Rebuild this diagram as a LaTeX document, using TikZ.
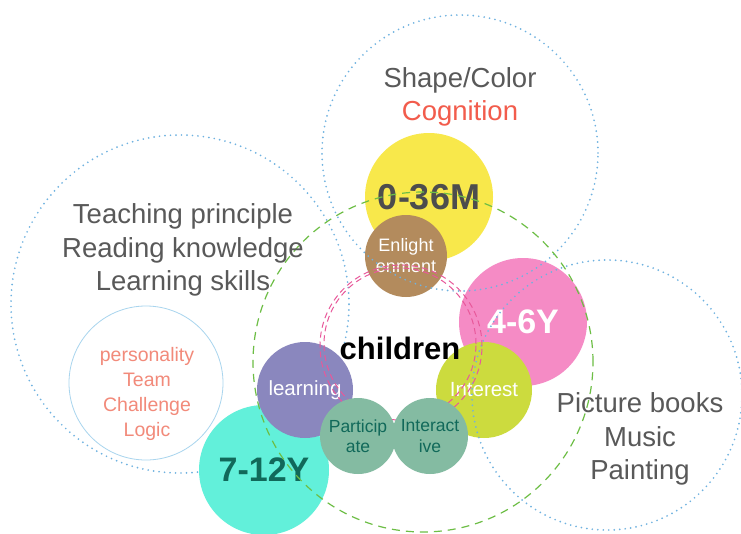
\documentclass[tikz,border=0pt]{standalone}
\usepackage{fontspec}
\setmainfont{Liberation Sans}
\definecolor{ringblue}{HTML}{6FB2E0}
\definecolor{lightring}{HTML}{A9D5EE}
\definecolor{ringgreen}{HTML}{6DBE45}
\definecolor{ringpink}{HTML}{E8589A}
\definecolor{labelgray}{HTML}{595959}
\definecolor{cogred}{HTML}{F25C4C}
\definecolor{salmon}{HTML}{F28A7A}
\definecolor{cyellow}{HTML}{F8E84B}
\definecolor{cbrown}{HTML}{B38B5D}
\definecolor{cpink}{HTML}{F58BC5}
\definecolor{cinterest}{HTML}{CCDB3E}
\definecolor{cpurple}{HTML}{8A87BE}
\definecolor{ccyan}{HTML}{62F0DA}
\definecolor{csage}{HTML}{84BBA2}
\definecolor{darkteal}{HTML}{11695A}
\definecolor{numgray}{HTML}{4D4D4D}
\begin{document}
\begin{tikzpicture}[x=1pt,y=-1pt,
  disc/.style={circle,inner sep=0pt,draw=none,align=center},
  dotring/.style={circle,inner sep=0pt,draw=ringblue,line width=1.9pt,line cap=round,dash pattern=on 0pt off 5.5pt},
  greenring/.style={circle,inner sep=0pt,draw=ringgreen,line width=1.2pt,dash pattern=on 8pt off 6pt},
  pinkring/.style={circle,inner sep=0pt,draw=ringpink,line width=1pt,dash pattern=on 6pt off 4pt},
  biglabel/.style={align=center,text=labelgray,font=\fontsize{27.5}{33.5}\selectfont},
  agelabel/.style={font=\fontsize{36}{40}\selectfont\bfseries},
  smalllabel/.style={font=\fontsize{17.5}{20.5}\selectfont},
]
\useasboundingbox (0,0) rectangle (741,533);
\fill[white] (0,0) rectangle (741,533);

% left dotted ring (behind the discs)
\node[dotring,minimum size=338pt] (leftring) at (180,304) {};
\node[circle,inner sep=0pt,draw=lightring,line width=0.8pt,minimum size=154pt] (persring) at (146,383) {};

% filled discs (back)
\node[disc,fill=cyellow,minimum size=128pt,text=numgray,agelabel] (m036) at (429,197) {0-36M};
\node[disc,fill=cbrown,minimum size=82pt,text=white,font=\fontsize{18}{21}\selectfont] (enl) at (406,256) {Enlight\\enment};
\node[disc,fill=cpink,minimum size=128pt,text=white,font=\fontsize{34}{38}\selectfont\bfseries] (y46) at (523,322) {4-6Y};
\node[disc,fill=cinterest,minimum size=96pt,text=white,font=\fontsize{20.5}{24}\selectfont] (interest) at (484,390) {Interest};
\node[disc,fill=ccyan,minimum size=130pt,text=darkteal,font=\fontsize{34}{38}\selectfont\bfseries] (y712) at (264,470) {7-12Y};
\node[disc,fill=cpurple,minimum size=96pt,text=white,font=\fontsize{20.5}{24}\selectfont] (learn) at (305,390) {learning};

% outline rings
\node[dotring,minimum size=276pt] (topring) at (460,153) {};
\node[dotring,minimum size=270pt] (rightring) at (607,395) {};
\node[greenring,minimum size=340pt] (greenring) at (423,362) {};
\node[pinkring,minimum size=162pt] (pinkA) at (401,346) {};
\node[pinkring,minimum size=152pt] (pinkB) at (400,344) {};

% front discs
\node[disc,fill=csage,minimum size=76pt,text=darkteal,smalllabel] (part) at (358,436) {Particip\\ate};
\node[disc,fill=csage,minimum size=76pt,text=darkteal,smalllabel] (inter) at (430,436) {Interact\\ive};

% labels
\node[biglabel] (shape) at (460,97) {Shape/Color\\\textcolor{cogred}{Cognition}};
\node[biglabel] (teach) at (183,250) {Teaching principle\\Reading knowledge\\Learning skills};
\node[biglabel] (pict) at (640,439) {Picture books\\Music\\Painting};
\node[align=center,text=salmon,font=\fontsize{19.5}{25}\selectfont] (pers) at (147,394) {personality\\Team\\Challenge\\Logic};
\node[font=\fontsize{31}{34}\selectfont\bfseries,text=black] (children) at (400,348) {children};
\end{tikzpicture}
\end{document}
